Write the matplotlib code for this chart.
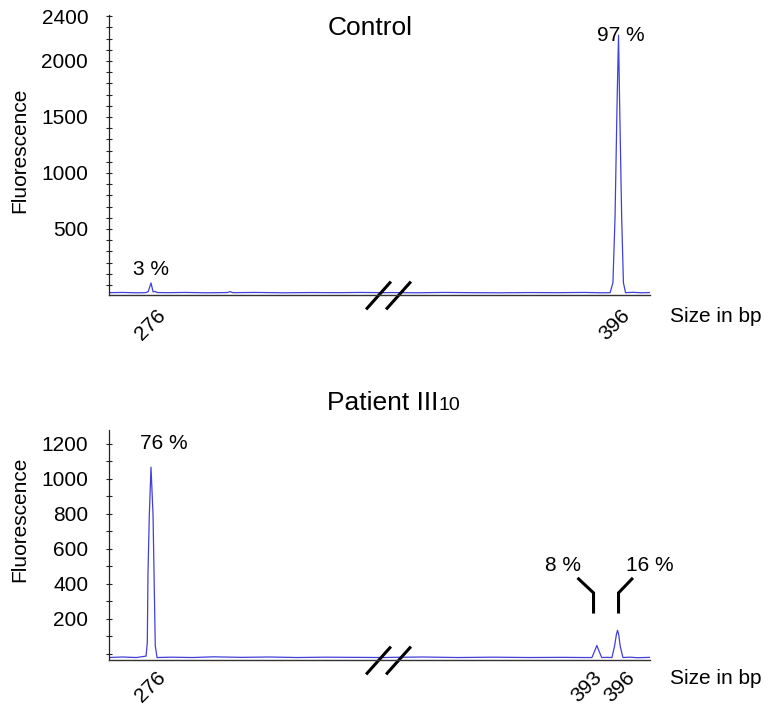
import numpy as np
import matplotlib
matplotlib.use('Agg')
import matplotlib.pyplot as plt
import matplotlib.transforms as mtransforms

plt.rcParams['font.family'] = ['Liberation Sans', 'DejaVu Sans']

# x axis is broken between these sizes (bp); right part is shifted left
BREAK_LO = 310.0
BREAK_HI = 363.0

# ---- Control trace (size in bp, fluorescence) ----
ctrl_bp = [270.1, 272.0, 274.0, 275.3, 275.7, 276.1, 276.4, 276.7, 277.0, 278.5,
           281.0, 284.0, 287.0, 287.4, 287.8, 291.0, 295.0, 299.0, 303.0, 306.0,
           309.5, 363.5, 367.0, 371.0, 375.0, 379.0, 383.0, 387.0, 391.0, 393.5,
           394.7, 395.1, 395.4, 395.7, 395.9, 396.05, 396.35, 396.6, 396.9, 398.0,
           399.2, 400.4]
ctrl_rfu = [-69, -67, -70, -69, -60, 18, -62, -58, -68, -69,
            -67, -70, -68, -60, -69, -67, -70, -68, -69, -67,
            -69, -68, -70, -67, -69, -70, -68, -69, -67, -70,
            -69, 20, 600, 1650, 2230, 1650, 600, 20, -69, -66,
            -70, -68]

# ---- Patient III10 trace ----
pat_bp = [270.1, 272.0, 274.0, 275.39, 275.57, 275.67, 275.86, 276.1, 276.39, 276.53,
          276.71, 276.96, 279.0, 282.0, 285.0, 289.0, 293.0, 297.0, 301.0, 305.0,
          309.5, 363.5, 368.0, 373.0, 378.0, 383.0, 388.0, 391.0, 392.1, 392.45,
          392.8, 393.15, 393.5, 394.3, 394.96, 395.33, 395.6, 395.76, 395.92, 396.14,
          396.53, 397.5, 398.6, 400.4]
pat_rfu = [-23, -20, -23, -15, 61, 461, 794, 1067, 794, 461,
           45, -23, -21, -23, -19, -22, -20, -23, -21, -22,
           -23, -22, -20, -23, -21, -23, -22, -23, -23, 10,
           46, 10, -23, -22, -23, 42, 110, 133, 110, 42,
           -23, -21, -24, -22]

ctrl_ticks = [276, 396]
pat_ticks = [276, 393, 396]

ctrl_peaks = [(276.1, 89, '3 %'), (396.2, 2180, '97 %')]
pat_peaks = [(277.9, 1170, '76 %'), (388.0, 470, '8 %'), (400.4, 470, '16 %')]

ctrl_ylabels = {500: '500', 1000: '1000', 1500: '1500', 2000: '2000', 2400: '2400'}
pat_ylabels = {200: '200', 400: '400', 600: '600', 800: '800', 1000: '1000', 1200: '1200'}

TRACE = '#4040da'
FS = 15


def to_plot(bp):
    bp = np.asarray(bp, dtype=float)
    return np.where(bp >= BREAK_HI, bp - (BREAK_HI - BREAK_LO), bp)


def style_panel(ax, bps, rfu, ticks, ylim, ymax_tick, ylabels, label_y, size_dy, shifts, xpad):
    ax.plot(to_plot(bps), rfu, color=TRACE, lw=0.9)
    ax.set_xlim(270.1, 347.4)
    ax.set_ylim(*ylim)
    for s in ['top', 'right']:
        ax.spines[s].set_visible(False)
    ax.spines['left'].set_color('#222222')
    ax.spines['bottom'].set_color('#333333')
    ax.spines['left'].set_linewidth(0.9)
    ax.spines['bottom'].set_linewidth(1.0)

    yt = np.arange(0, ymax_tick + 1, 100)
    ax.set_yticks(yt)
    ax.set_yticklabels([ylabels.get(int(v), '') for v in yt])
    ax.tick_params(axis='y', direction='inout', length=4, width=0.8,
                   labelsize=FS, pad=13, color='#222222')

    ax.set_xticks(to_plot(ticks))
    ax.set_xticklabels([str(t) for t in ticks], rotation=45)
    ax.tick_params(axis='x', length=0, labelsize=FS, pad=xpad)
    for lbl, t in zip(ax.get_xticklabels(), ticks):
        dx = shifts.get(t, 0)
        if dx:
            off = mtransforms.ScaledTranslation(dx / 100.0, 0, ax.figure.dpi_scale_trans)
            lbl.set_transform(lbl.get_transform() + off)

    ax.set_ylabel('Fluorescence', fontsize=FS)
    ax.yaxis.set_label_coords(-0.148, label_y)

    ax.annotate('Size in bp', xy=(1, 0), xycoords='axes fraction',
                xytext=(14.4, size_dy), textcoords='offset points',
                ha='left', va='center', fontsize=FS)

    # axis break slashes
    brk = mtransforms.blended_transform_factory(ax.transData, ax.transAxes)
    ax.plot([BREAK_LO - 1.4, BREAK_LO + 1.4], [0, 0], transform=brk, ls='none',
            marker=[(-25, -28), (25, 28)], markersize=20, mew=2.2, mec='black',
            clip_on=False)


fig = plt.figure(figsize=(7.65, 7.08), dpi=100)
ax1 = fig.add_axes([0.1425, 0.5833, 0.7072, 0.3955])
ax2 = fig.add_axes([0.1425, 0.0671, 0.7072, 0.3256])

style_panel(ax1, ctrl_bp, ctrl_rfu, ctrl_ticks, (-90, 2410), 2400, ctrl_ylabels,
            0.518, -15.8, {396: -5}, 8)
style_panel(ax2, pat_bp, pat_rfu, pat_ticks, (-40, 1280), 1200, pat_ylabels,
            0.6125, -13.3, {393: -12}, 5)

for x, y, s in ctrl_peaks:
    ax1.text(to_plot(x), y, s, ha='center', va='baseline', fontsize=FS)
for x, y, s in pat_peaks:
    ax2.text(to_plot(x), y, s, ha='center', va='baseline', fontsize=FS)

# leader lines for the two small peaks
ax2.plot(to_plot([390.04, 392.33, 392.33]), [433, 347, 229], color='black', lw=2.2,
         solid_joinstyle='miter', solid_capstyle='butt')
ax2.plot(to_plot([397.96, 395.9, 395.9]), [433, 347, 229], color='black', lw=2.2,
         solid_joinstyle='miter', solid_capstyle='butt')

ax1.text(0.482, 0.954, 'Control', transform=ax1.transAxes, ha='center',
         va='center', fontsize=19)
ax2.text(0.403, 1.087, 'Patient III', transform=ax2.transAxes, ha='left',
         va='baseline', fontsize=19)
ax2.text(0.609, 1.087, '10', transform=ax2.transAxes, ha='left',
         va='baseline', fontsize=14)

fig.savefig('out.png', dpi=100)
